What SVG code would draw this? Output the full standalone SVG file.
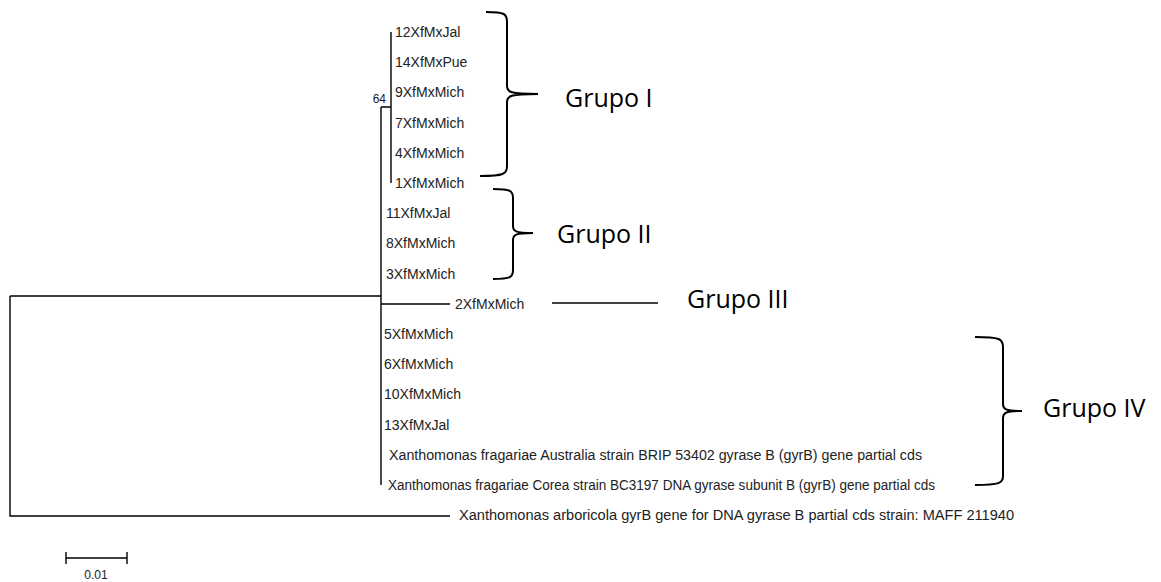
<svg xmlns="http://www.w3.org/2000/svg" width="1161" height="582" viewBox="0 0 1161 582">
<style>
.leaf{font-family:"Liberation Sans",Arial,sans-serif;font-size:14px;fill:#222}
.br{stroke:#000;stroke-width:1.4;fill:none}
.brace{stroke:#000;stroke-width:2;fill:none}
.grp{font-family:"Open Sans","Noto Sans",sans-serif;font-size:25px;fill:#000}
.small{font-family:"Liberation Sans",Arial,sans-serif;font-size:12px;fill:#222}
</style>
<rect width="1161" height="582" fill="#fff"/>
<g id="connectors">
<path class="br" d="M10 296 H381 M10 296 V516 H450"/>
<path class="br" d="M381 107 V485 M381 107 H391 M391 32 V183"/>
<path class="br" d="M381 304 H450"/>
<path class="br" d="M66 558 H127 M66 552 V564 M127 552 V564"/>
</g>
<g id="node64"><text class="small" x="386" y="103" text-anchor="end">64</text></g>
<g id="leaves">
<text class="leaf" x="395" y="37">12XfMxJal</text>
<text class="leaf" x="395" y="67">14XfMxPue</text>
<text class="leaf" x="395" y="97">9XfMxMich</text>
<text class="leaf" x="395" y="128">7XfMxMich</text>
<text class="leaf" x="395" y="158">4XfMxMich</text>
<text class="leaf" x="395" y="188">1XfMxMich</text>
<text class="leaf" x="386" y="218">11XfMxJal</text>
<text class="leaf" x="386" y="248">8XfMxMich</text>
<text class="leaf" x="386" y="279">3XfMxMich</text>
<text class="leaf" x="455" y="309">2XfMxMich</text>
<text class="leaf" x="384" y="339">5XfMxMich</text>
<text class="leaf" x="384" y="369">6XfMxMich</text>
<text class="leaf" x="384" y="399">10XfMxMich</text>
<text class="leaf" x="384" y="430">13XfMxJal</text>
<text class="leaf" x="389" y="460" textLength="533" lengthAdjust="spacingAndGlyphs">Xanthomonas fragariae Australia strain BRIP 53402 gyrase B (gyrB) gene partial cds</text>
<text class="leaf" x="388" y="490" textLength="547" lengthAdjust="spacingAndGlyphs">Xanthomonas fragariae Corea strain BC3197 DNA gyrase subunit B (gyrB) gene partial cds</text>
<text class="leaf" x="459" y="520" textLength="555" lengthAdjust="spacingAndGlyphs">Xanthomonas arboricola gyrB gene for DNA gyrase B partial cds strain: MAFF 211940</text>
</g>
<g id="scale"><text class="small" x="96" y="579" text-anchor="middle">0.01</text></g>
<g id="grupo1">
<path class="brace" d="M486 12 C505 12,507 14,507 22 L507 86 C507 92,510 94,538 94 C510 94,507 96,507 102 L507 166 C507 174,504 176,480 176"/>
<text class="grp" x="565" y="107">Grupo I</text>
</g>
<g id="grupo2">
<path class="brace" d="M493 189 C511 189,513 191,513 198 L513 226 C513 231,515 233,533 233 C515 233,513 235,513 240 L513 270 C513 277,511 279,493 279"/>
<text class="grp" x="557" y="243">Grupo II</text>
</g>
<g id="grupo3">
<path class="br" d="M552 303 H658"/>
<text class="grp" x="687" y="308">Grupo III</text>
</g>
<g id="grupo4">
<path class="brace" d="M975 337 C1000 337,1003 339,1003 347 L1003 404 C1003 409,1005 411,1022 411 C1005 411,1003 413,1003 418 L1003 476 C1003 483,1000 485,975 485"/>
<text class="grp" x="1043" y="417">Grupo IV</text>
</g>
</svg>
